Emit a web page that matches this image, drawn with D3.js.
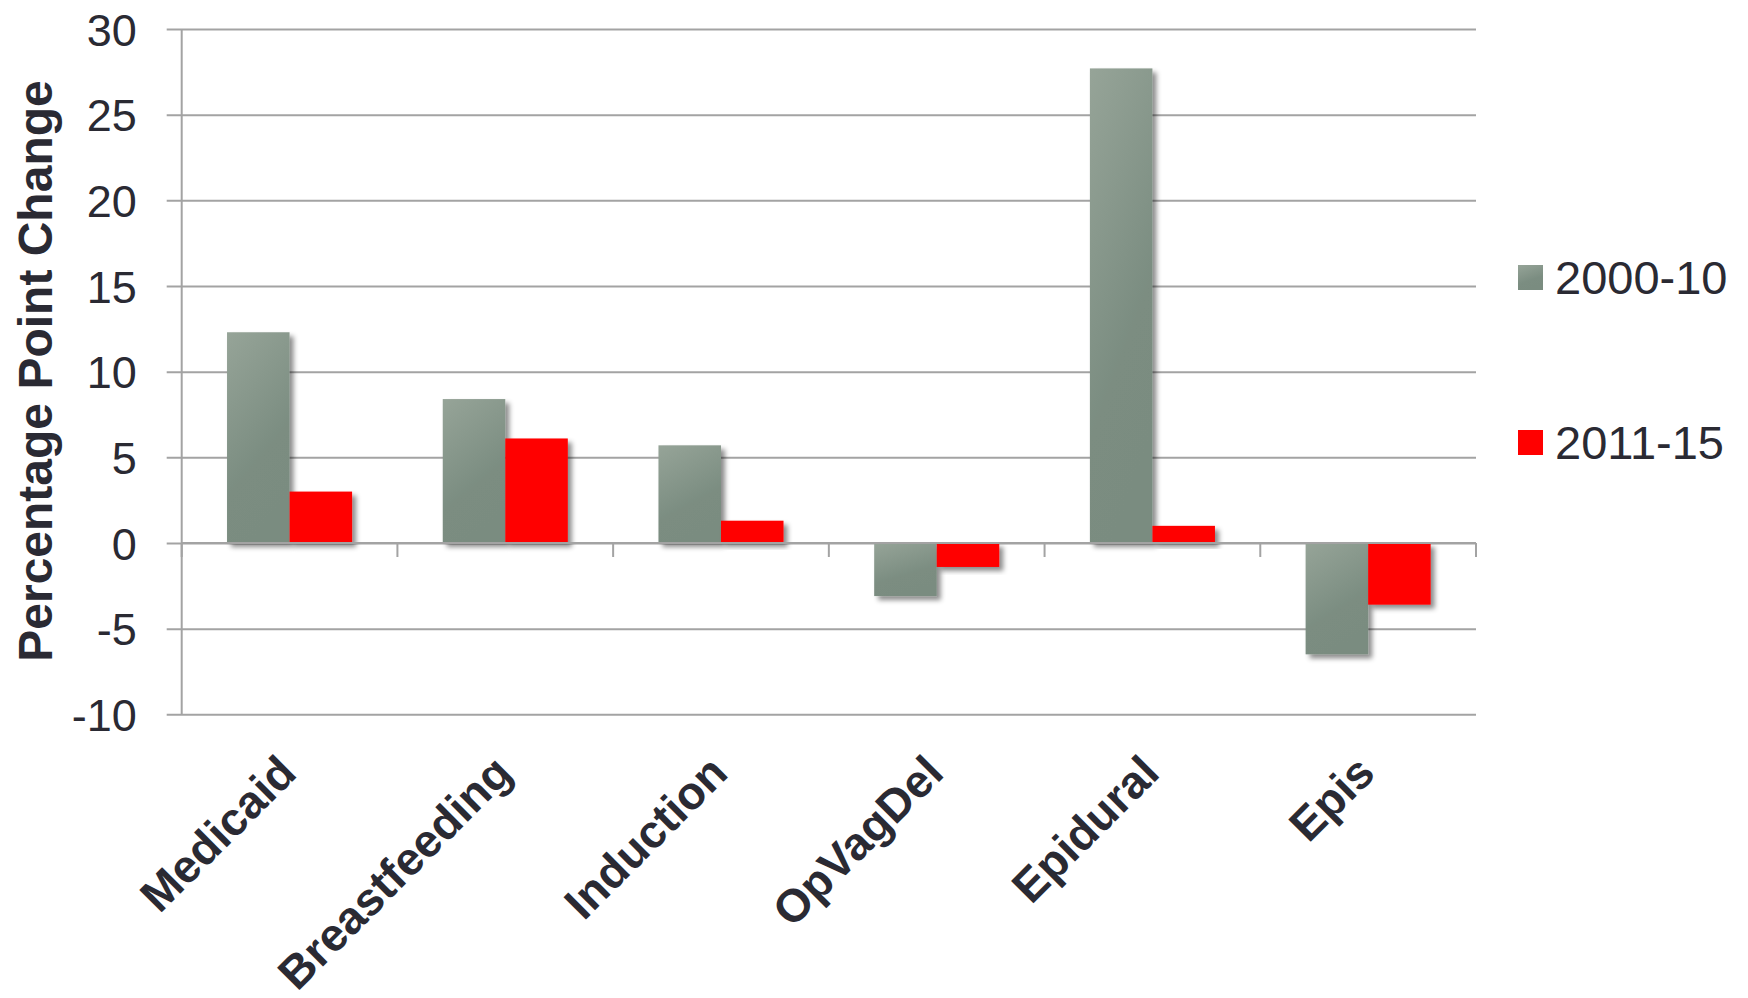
<!DOCTYPE html>
<html>
<head>
<meta charset="utf-8">
<script src="https://cdn.jsdelivr.net/npm/d3@7"></script>
<style>
  html, body { margin: 0; padding: 0; background: #fff; }
  svg { display: block; font-family: "Liberation Sans", Arial, sans-serif; }
</style>
</head>
<body>
<svg id="chart" width="1748" height="998"></svg>
<script>
// Percentage point change by measure, two periods
const categories = ["Medicaid", "Breastfeeding", "Induction", "OpVagDel", "Epidural", "Epis"];
const seriesNames = ["2000-10", "2011-15"];
const values2000_10 = [12.3, 8.4, 5.7, -3.1, 27.7, -6.5];
const values2011_15 = [3.0, 6.1, 1.3, -1.4, 1.0, -3.6];
const yTicks = [-10, -5, 0, 5, 10, 15, 20, 25, 30];
const yTitle = "Percentage Point Change";

const seriesValues = [values2000_10, values2011_15];
const rows = categories.map((c, i) => ({
  category: c,
  bars: seriesNames.map((s, k) => ({ series: s, value: seriesValues[k][i] }))
}));

const svg = d3.select("#chart");
const textColor = "#2a2a33";
const gridColor = "#a3a3a3";

const plot = { left: 181.7, right: 1476, top: 29, bottom: 714.3 };

const x = d3.scaleBand().domain(categories).range([plot.left, plot.right]).padding(0);
const xInner = d3.scaleBand().domain(seriesNames).range([0, x.bandwidth()])
  .paddingInner(0).paddingOuter(0.725);
const y = d3.scaleLinear().domain([-10, 30]).range([plot.bottom, plot.top]);

// Defs: gradient for the grey series and a soft drop shadow
const defs = svg.append("defs");
const grad = defs.append("linearGradient").attr("id", "greyFill")
  .attr("x1", "0").attr("y1", "0").attr("x2", "0.35").attr("y2", "1");
grad.append("stop").attr("offset", "0%").attr("stop-color", "#96a498");
grad.append("stop").attr("offset", "70%").attr("stop-color", "#7b8d81");
grad.append("stop").attr("offset", "100%").attr("stop-color", "#7a8c80");

const shadow = defs.append("filter").attr("id", "shadow")
  .attr("x", "-20%").attr("y", "-20%").attr("width", "150%").attr("height", "150%");
shadow.append("feDropShadow").attr("dx", 4).attr("dy", 4)
  .attr("stdDeviation", 2.5).attr("flood-color", "#000").attr("flood-opacity", 0.45);

const colors = { "2000-10": "url(#greyFill)", "2011-15": "#ff0000" };

// Horizontal gridlines with left tick marks
const yAxis = d3.axisLeft(y).tickValues(yTicks)
  .tickSize(-(plot.right - plot.left)).tickSizeOuter(0).tickPadding(30)
  .tickFormat(d => String(d));
const gy = svg.append("g").attr("transform", `translate(${plot.left},0)`).call(yAxis);
gy.select(".domain").remove();
gy.selectAll(".tick line").attr("stroke", gridColor).attr("stroke-width", 2)
  .attr("x1", -15);
gy.selectAll(".tick text").attr("fill", textColor).attr("font-size", 45)
  .attr("x", -45).attr("dy", "0.36em");

// Vertical axis line
svg.append("line")
  .attr("x1", plot.left).attr("x2", plot.left)
  .attr("y1", plot.top).attr("y2", plot.bottom)
  .attr("stroke", gridColor).attr("stroke-width", 2);

// Bars
const groups = svg.append("g").selectAll("g").data(rows).join("g")
  .attr("transform", d => `translate(${x(d.category)},0)`);
groups.selectAll("rect").data(d => d.bars).join("rect")
  .attr("x", d => xInner(d.series))
  .attr("width", xInner.bandwidth())
  .attr("y", d => y(Math.max(0, d.value)))
  .attr("height", d => Math.abs(y(d.value) - y(0)))
  .attr("fill", d => colors[d.series])
  .attr("filter", "url(#shadow)");

// Category axis at zero with downward ticks between categories
const xAxisLine = svg.append("g");
xAxisLine.append("line")
  .attr("x1", plot.left).attr("x2", plot.right)
  .attr("y1", y(0)).attr("y2", y(0))
  .attr("stroke", gridColor).attr("stroke-width", 2);
const boundaries = categories.map(c => x(c) + x.bandwidth()).concat([x(categories[0])]);
xAxisLine.selectAll("line.tick").data(boundaries).join("line").attr("class", "tick")
  .attr("x1", d => d).attr("x2", d => d)
  .attr("y1", y(0)).attr("y2", y(0) + 14)
  .attr("stroke", gridColor).attr("stroke-width", 2);

// Rotated category labels
svg.append("g").selectAll("text").data(categories).join("text")
  .attr("transform", d => `translate(${x(d) + x.bandwidth() / 2 + 9},${plot.bottom + 61}) rotate(-45)`)
  .attr("text-anchor", "end")
  .attr("font-size", 46).attr("font-weight", "bold").attr("fill", textColor)
  .text(d => d);

// Y axis title
svg.append("text")
  .attr("transform", `translate(52,371) rotate(-90)`)
  .attr("text-anchor", "middle")
  .attr("font-size", 48).attr("font-weight", "bold").attr("fill", textColor)
  .text(yTitle);

// Legend
const legend = svg.append("g").selectAll("g").data(seriesNames).join("g")
  .attr("transform", (d, i) => `translate(1518,${265 + i * 165})`);
legend.append("rect").attr("width", 25).attr("height", 25)
  .attr("fill", d => colors[d]);
legend.append("text").attr("x", 37).attr("y", 28.5)
  .attr("font-size", 47).attr("fill", textColor).text(d => d);
</script>
</body>
</html>
